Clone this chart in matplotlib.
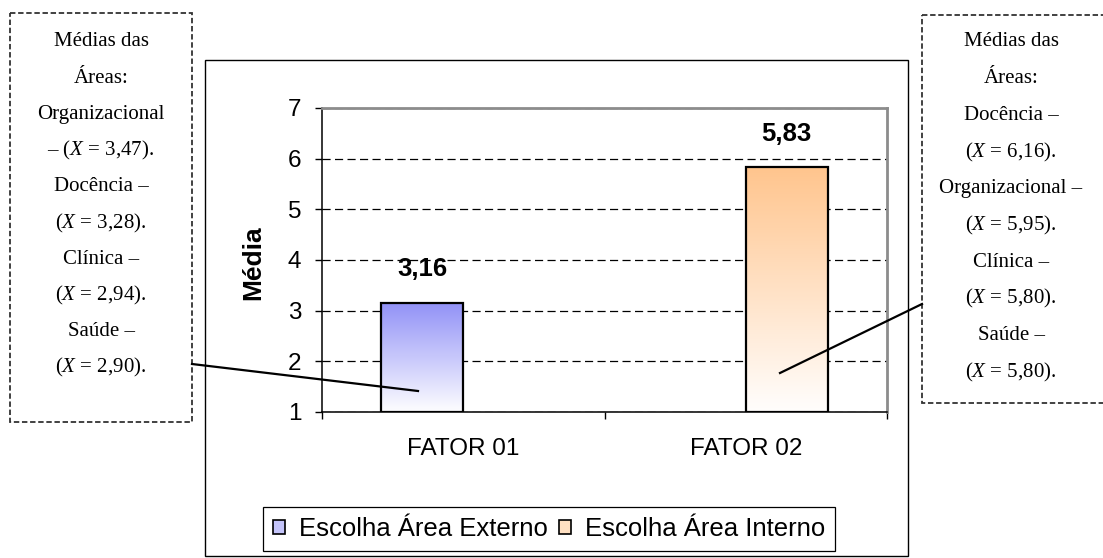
import numpy as np
import matplotlib
matplotlib.use("Agg")
import matplotlib.pyplot as plt
from matplotlib.patches import Rectangle, Patch
from matplotlib.lines import Line2D
from matplotlib.colors import LinearSegmentedColormap
from matplotlib.transforms import Affine2D

# ---- data ----
categorias = ["FATOR 01", "FATOR 02"]
series = ["Escolha Área Externo", "Escolha Área Interno"]
externo = [3.16, np.nan]
interno = [np.nan, 5.83]
yticks = [1, 2, 3, 4, 5, 6, 7]

areas_externo = ["Organizacional", "Docência", "Clínica", "Saúde"]
medias_externo = [3.47, 3.28, 2.94, 2.90]
areas_interno = ["Docência", "Organizacional", "Clínica", "Saúde"]
medias_interno = [6.16, 5.95, 5.80, 5.80]

cores_topo = ["#9292F7", "#FFC58E"]

# ---- figure ----
W, H = 1103, 558
plt.rcParams["mathtext.fontset"] = "custom"
plt.rcParams["mathtext.rm"] = "Liberation Serif"
plt.rcParams["mathtext.it"] = "Liberation Serif:italic"
sans = "Liberation Sans"
serif = "Liberation Serif"

fig = plt.figure(figsize=(W / 100, H / 100), dpi=100)
fig.patch.set_facecolor("white")
px = Affine2D().scale(1 / W, -1 / H).translate(0, 1) + fig.transFigure

# outer chart frame
fig.patches.append(Rectangle((205, 60), 703, 496, transform=px, fill=False,
                             edgecolor="black", lw=1.0))

ax = fig.add_axes([322 / W, 1 - 412 / H, 565 / W, 304 / H])
ax.set_facecolor("white")

x = np.arange(len(categorias))
w = 0.29
y0 = yticks[0]
for i, (vals, cor) in enumerate(zip([externo, interno], cores_topo)):
    cmap = LinearSegmentedColormap.from_list("g%d" % i, ["#FFFFFF", cor])
    off = (i - 0.5) * w
    for xi, v in zip(x, vals):
        if np.isnan(v):
            continue
        bar = ax.bar(xi + off, v - y0, w, bottom=y0, facecolor="none",
                     edgecolor="black", lw=1.6, zorder=4)[0]
        grad = np.linspace(0.02, 1, 256).reshape(-1, 1)
        im = ax.imshow(grad, cmap=cmap, vmin=0, vmax=1, origin="lower",
                       aspect="auto", interpolation="bilinear",
                       extent=(xi + off - w / 2, xi + off + w / 2, y0, v),
                       zorder=3)
        im.set_clip_path(bar)
        ax.annotate(f"{v:.2f}".replace(".", ","), (xi + off, v),
                    xytext=(0, 24), textcoords="offset points",
                    ha="center", va="center", fontsize=18.5,
                    fontweight="bold", family=sans)

ax.set_xlim(-0.5, len(categorias) - 0.5)
ax.set_ylim(yticks[0], yticks[-1])
ax.set_yticks(yticks)
ax.set_yticklabels([str(t) for t in yticks], family=sans, fontsize=17.5)
ax.tick_params(axis="y", direction="out", length=5, width=1, pad=10)

# category boundaries as major ticks, labels on minor ticks
ax.set_xticks(np.arange(len(categorias) + 1) - 0.5)
ax.set_xticklabels([])
ax.tick_params(axis="x", which="major", direction="out", length=5, width=1)
ax.set_xticks(x, minor=True)
ax.set_xticklabels(categorias, minor=True, family=sans, fontsize=17.5)
ax.tick_params(axis="x", which="minor", length=0, pad=19)

ax.set_axisbelow(True)
ax.yaxis.grid(True, color="black", lw=0.9, linestyle=(0, (6.5, 3.5)))
ax.xaxis.grid(False)

for s in ["left", "bottom"]:
    ax.spines[s].set_color("black")
    ax.spines[s].set_linewidth(1.1)
for s in ["top", "right"]:
    ax.spines[s].set_color("#8C8C8C")
    ax.spines[s].set_linewidth(2.0)

ax.set_ylabel("Média", family=sans, fontsize=19, fontweight="bold", va="center")
ax.yaxis.set_label_coords((253 - 322) / 565, (412 - 263) / 304)

# legend
handles = [Patch(facecolor=c, edgecolor="black", lw=1.2) for c in ["#C4C4FA", "#FFE0C2"]]
leg = ax.legend(handles, series, loc="center", ncol=2,
                bbox_to_anchor=(549 / W, 1 - 529 / H), bbox_transform=fig.transFigure,
                prop={"family": sans, "size": 18.5}, frameon=True, fancybox=False,
                edgecolor="black", framealpha=1, handlelength=0.45,
                handleheight=0.45, handletextpad=0.55, columnspacing=0.45,
                borderpad=0.4, borderaxespad=0)
leg.get_frame().set_linewidth(0.9)


# ---- side boxes with area means ----
def fmt(v, italico=False):
    s = f"{v:.2f}".replace(".", ",")
    if italico:
        a, b = s.split(",")
        return f"$\\mathit{{{a}}}$,$\\mathit{{{b}}}$"
    return s


def linhas_caixa(areas, medias, traco_abaixo, italicos):
    linhas = ["Médias das", "Áreas:"]
    for a, m, t, it in zip(areas, medias, traco_abaixo, italicos):
        valor = f"($X$ = {fmt(m, it)})."
        if t:
            linhas += [a, "– " + valor]
        else:
            linhas += [a + " –", valor]
    return linhas


def caixa(x0, y0_, x1, y1, cx, ytop, passo, linhas):
    fig.patches.append(Rectangle((x0, y0_), x1 - x0, y1 - y0_, transform=px,
                                 fill=False, edgecolor="#333333", lw=1.3,
                                 linestyle=(0, (3, 1.5))))
    for k, t in enumerate(linhas):
        fig.text(cx, ytop + k * passo, t, transform=px, ha="center",
                 va="center", family=serif, fontsize=15)


caixa(10, 13, 192, 422, 101, 42, 36.2,
      linhas_caixa(areas_externo, medias_externo,
                   [True, False, False, False], [False] * 4))
caixa(922, 15, 1106, 403, 1011, 42, 36.7,
      linhas_caixa(areas_interno, medias_interno,
                   [False] * 4, [True, False, False, False]))

# connectors from boxes to bars
fig.lines.append(Line2D([192, 418], [364, 391], transform=px, color="black", lw=1.6))
fig.lines.append(Line2D([780, 922], [373, 304], transform=px, color="black", lw=1.6))

fig.savefig("out.png", dpi=100, facecolor="white")
